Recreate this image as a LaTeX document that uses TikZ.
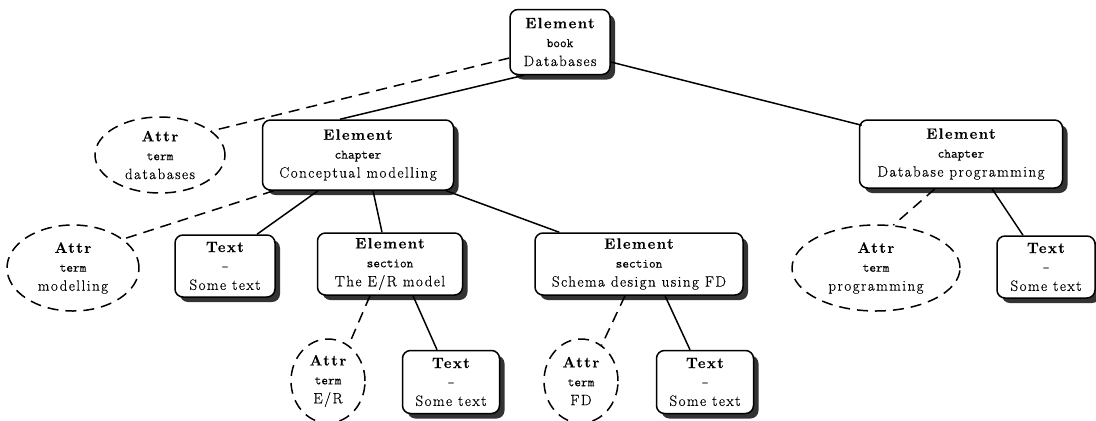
\documentclass[tikz,border=0pt]{standalone}
\usepackage{fontspec}
\usetikzlibrary{shapes.geometric,shadows,calc}
\newfontfamily\rmsp{Latin Modern Roman}[LetterSpace=10,FakeBold=0.4]
\newfontfamily\ttsp{Latin Modern Mono}[FakeBold=0.4]
\newcommand\trip[3]{{\rmsp\bfseries #1}\\{\fontsize{13}{19}\selectfont\ttsp #2}\\{\rmsp #3}}
\tikzset{
  box/.style={draw, line width=1.5bp, rounded corners=8bp, fill=white,
    drop shadow={shadow xshift=5bp,shadow yshift=-5bp,fill=black!80,opacity=1},
    inner sep=0pt},
  lbl/.style={align=center, inner sep=0pt, font=\fontsize{15}{19}\selectfont},
  attr/.style={ellipse, draw, line width=1.5bp, dash pattern=on 11bp off 7bp, inner sep=0pt},
  link/.style={line width=1.5bp},
  dlink/.style={line width=1.5bp, dash pattern=on 11bp off 7bp}
}
\begin{document}
\begin{tikzpicture}[x=1bp,y=-1bp]
\useasboundingbox (0,0) rectangle (1096,420);
% boxes
\node[box, minimum width=100bp, minimum height=65bp] (top) at (560,42) {};
\node[lbl] (topt) at (top) {\trip{Element}{book}{Databases}};
\node[box, minimum width=191bp, minimum height=70bp] (cm) at (358,155) {};
\node[lbl] (cmt) at (cm) {\trip{Element}{chapter}{Conceptual modelling}};
\node[box, minimum width=203bp, minimum height=68bp] (dbp) at (961,154) {};
\node[lbl] (dbpt) at (dbp) {\trip{Element}{chapter}{Database programming}};
\node[box, minimum width=100bp, minimum height=62bp] (t1) at (225,266) {};
\node[lbl] (t1t) at (t1) {\trip{Text}{-}{Some text}};
\node[box, minimum width=145bp, minimum height=62bp] (er) at (390,264) {};
\node[lbl] (ert) at (er) {\trip{Element}{section}{The E/R model}};
\node[box, minimum width=208bp, minimum height=62bp] (sd) at (639,264) {};
\node[lbl] (sdt) at (sd) {\trip{Element}{section}{Schema design using FD}};
\node[box, minimum width=98bp, minimum height=62bp] (t4) at (1046,267) {};
\node[lbl] (t4t) at (t4) {\trip{Text}{-}{Some text}};
\node[box, minimum width=97bp, minimum height=63bp] (t2) at (451,382) {};
\node[lbl] (t2t) at (t2) {\trip{Text}{-}{Some text}};
\node[box, minimum width=97bp, minimum height=63bp] (t3) at (705,382) {};
\node[lbl] (t3t) at (t3) {\trip{Text}{-}{Some text}};
% attributes
\node[attr, minimum width=130bp, minimum height=76bp] (adb) at (160,155) {};
\node[lbl] (adbt) at (adb) {\trip{Attr}{term}{databases}};
\node[attr, minimum width=132bp, minimum height=86bp] (am) at (73,268) {};
\node[lbl] (amt) at (am) {\trip{Attr}{term}{modelling}};
\node[attr, minimum width=168bp, minimum height=86bp] (ap) at (876,268) {};
\node[lbl] (apt) at (ap) {\trip{Attr}{term}{programming}};
\node[attr, minimum width=74bp, minimum height=84bp] (aer) at (328,381) {};
\node[lbl] (aert) at (aer) {\trip{Attr}{term}{E/R}};
\node[attr, minimum width=74bp, minimum height=84bp] (afd) at (581,381) {};
\node[lbl] (afdt) at (afd) {\trip{Attr}{term}{FD}};
% connectors
\draw[link] ([xshift=-36bp]top.south) -- ([xshift=-18bp]cm.north);
\draw[link] ([yshift=-20bp]top.east) -- ([xshift=3bp,yshift=-6bp]dbp.north west);
\draw[dlink] ([yshift=-16bp]top.west) -- (adb.25);
\draw[dlink] ([xshift=12bp]cm.south west) -- (am.30);
\draw[link] ([xshift=-40bp]cm.south) -- ([xshift=32bp]t1.north);
\draw[link] ([xshift=15bp]cm.south) -- ([xshift=-8bp]er.north);
\draw[link] ([xshift=-8bp]cm.south east) -- ([xshift=25bp]sd.north west);
\draw[dlink] ([xshift=-20bp]er.south) -- (aer.60);
\draw[link] ([xshift=23bp]er.south) -- ([xshift=-14bp]t2.north);
\draw[dlink] ([xshift=-14bp]sd.south) -- (afd.60);
\draw[link] ([xshift=26bp]sd.south) -- ([xshift=-15bp]t3.north);
\draw[dlink] ([xshift=-26bp]dbp.south) -- (ap.68);
\draw[link] ([xshift=31bp]dbp.south) -- ([xshift=-23bp]t4.north);
\end{tikzpicture}
\end{document}
